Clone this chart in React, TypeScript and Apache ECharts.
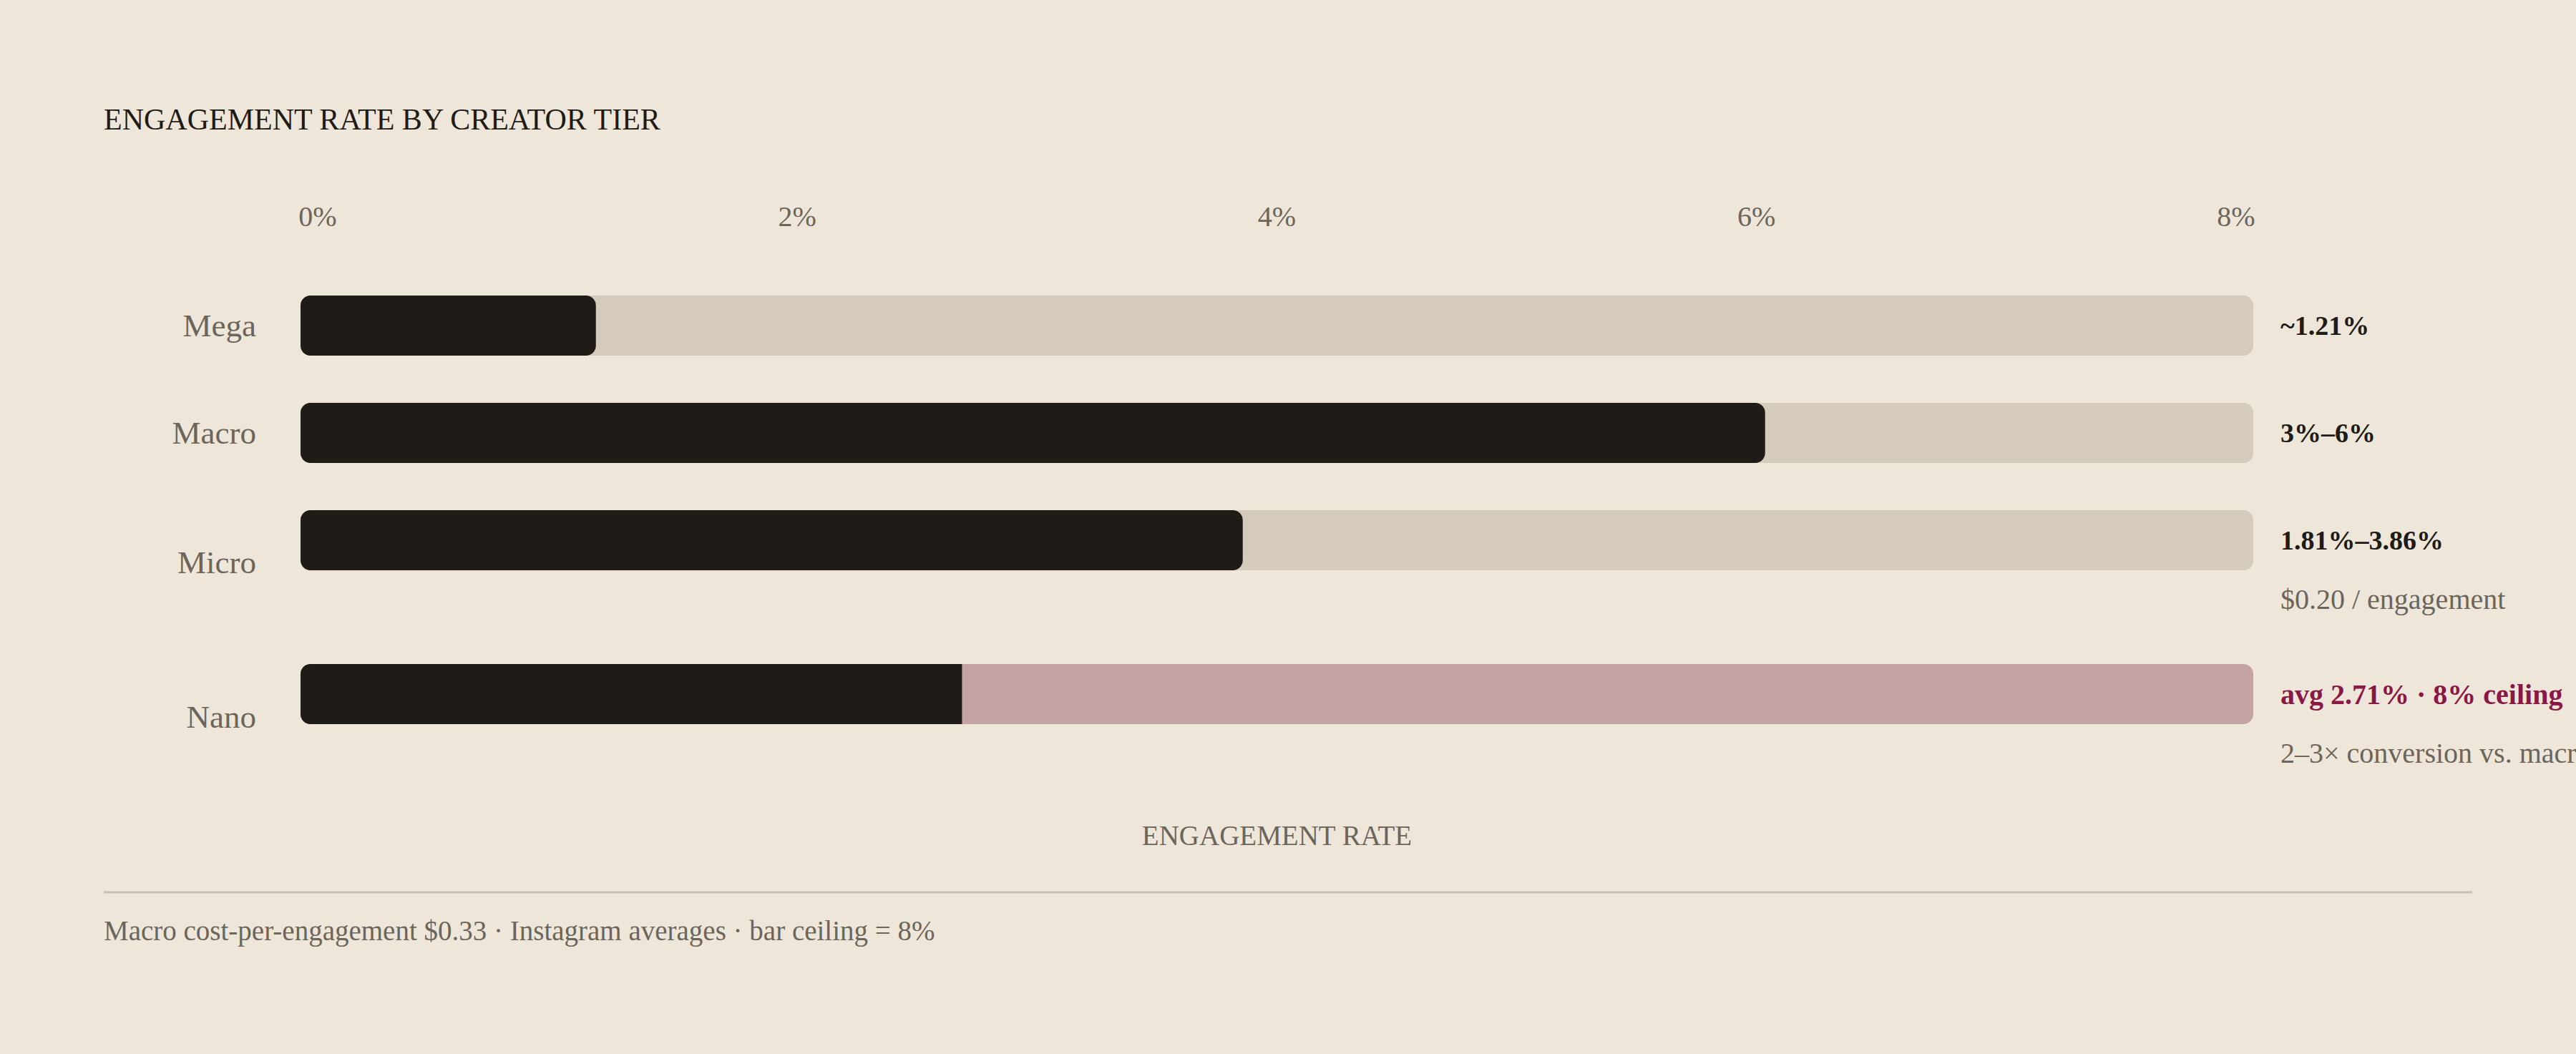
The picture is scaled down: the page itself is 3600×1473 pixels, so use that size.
import React, { useEffect, useRef } from "react";
import * as echarts from "echarts";

// data
const tiers = ["Mega", "Macro", "Micro", "Nano"];
const rates = [1.21, 6, 3.86, 2.71];
const ceiling = 8;
const tickStep = 2;
const rangeLabels = ["~1.21%", "3%–6%", "1.81%–3.86%", "avg 2.71% · 8% ceiling"];
const subNotes = ["", "", "$0.20 / engagement", "2–3× conversion vs. macro"];

const TITLE = "ENGAGEMENT RATE BY CREATOR TIER";
const AXIS_NAME = "ENGAGEMENT RATE";
const FOOTNOTE = "Macro cost-per-engagement $0.33 · Instagram averages · bar ceiling = 8%";

// layout
const W = 3600;
const H = 1473;
const PLOT_LEFT = 420;
const PLOT_RIGHT = 451;
const BAR_H = 84;
const rowTops = [413, 563, 713, 928];
const labelShift = [0, 0, 31, 32];

const FONT = "'Liberation Serif', 'Times New Roman', serif";
const BG = "#EEE6D8";
const INK = "#1F1B16";
const MUTED = "#6B655C";
const TRACK = "#D4CBBD";
const TRACK_HL = "#C5A3A5";
const ACCENT = "#8A1846";

const App: React.FC = () => {
  const chartRef = useRef<HTMLDivElement>(null);

  useEffect(() => {
    if (!chartRef.current) return;
    const chart = echarts.init(chartRef.current, null, { renderer: "svg" });

    const grids: any[] = [];
    const xAxes: any[] = [];
    const yAxes: any[] = [];
    const series: any[] = [];

    tiers.forEach((tier, i) => {
      const last = i === tiers.length - 1;
      grids.push({ left: PLOT_LEFT, right: PLOT_RIGHT, top: rowTops[i], height: BAR_H });
      xAxes.push({
        gridIndex: i,
        type: "value",
        min: 0,
        max: ceiling,
        show: last,
        name: last ? AXIS_NAME : "",
        nameLocation: "middle",
        nameGap: 155,
        nameTextStyle: {
          color: MUTED,
          fontFamily: FONT,
          fontSize: 39,
          verticalAlign: "middle",
        },
        axisLine: { show: false },
        axisTick: { show: false },
        axisLabel: { show: false },
        splitLine: { show: false },
      });
      yAxes.push({
        gridIndex: i,
        type: "category",
        data: [tier],
        axisLine: { show: false },
        axisTick: { show: false },
        axisLabel: {
          margin: 62,
          formatter: (v: string) => `{t|${v}}`,
          rich: {
            t: {
              color: MUTED,
              fontFamily: FONT,
              fontSize: 45,
              padding: [labelShift[i] * 2, 0, 0, 0],
            },
          },
        },
      });

      const sub = subNotes[i];
      const mainStyle = last ? "h" : "m";
      series.push({
        type: "bar",
        name: tier + " track",
        xAxisIndex: i,
        yAxisIndex: i,
        data: [ceiling],
        barWidth: BAR_H,
        silent: true,
        itemStyle: { color: last ? TRACK_HL : TRACK, borderRadius: 14 },
        label: {
          show: true,
          position: "right",
          distance: 38,
          offset: [0, sub ? 41 : 0],
          formatter: sub
            ? `{${mainStyle}|${rangeLabels[i]}}\n{s|${sub}}`
            : `{${mainStyle}|${rangeLabels[i]}}`,
          rich: {
            m: { fontFamily: FONT, fontSize: 38, fontWeight: "bold", color: INK, lineHeight: 82 },
            h: { fontFamily: FONT, fontSize: 40, fontWeight: "bold", color: ACCENT, lineHeight: 82 },
            s: { fontFamily: FONT, fontSize: 40, color: MUTED, lineHeight: 82 },
          },
        },
      });
      series.push({
        type: "bar",
        name: tier,
        xAxisIndex: i,
        yAxisIndex: i,
        data: [rates[i]],
        barWidth: BAR_H,
        barGap: "-100%",
        itemStyle: {
          color: INK,
          borderRadius: last ? [14, 0, 0, 14] : 14,
        },
      });
    });

    // tick label row, spread edge to edge across the plot
    grids.push({ left: 444, right: 475, top: 302, height: 1 });
    xAxes.push({
      gridIndex: tiers.length,
      type: "value",
      position: "top",
      min: 0,
      max: ceiling,
      interval: tickStep,
      axisLine: { show: false },
      axisTick: { show: false },
      splitLine: { show: false },
      axisLabel: {
        formatter: "{value}%",
        color: MUTED,
        fontFamily: FONT,
        fontSize: 40,
        margin: 0,
        verticalAlign: "middle",
      },
    });
    yAxes.push({ gridIndex: tiers.length, type: "category", data: [""], show: false });

    chart.setOption({
      animation: false,
      backgroundColor: BG,
      title: {
        text: TITLE,
        left: 145,
        top: 146,
        padding: 0,
        textStyle: { color: INK, fontFamily: FONT, fontSize: 42, fontWeight: "normal" },
      },
      grid: grids,
      xAxis: xAxes,
      yAxis: yAxes,
      series,
      graphic: [
        {
          type: "line",
          shape: { x1: 145, y1: 1247, x2: 3455, y2: 1247 },
          style: { stroke: "#C7C0B3", lineWidth: 3 },
        },
        {
          type: "text",
          left: 145,
          top: 1281,
          style: { text: FOOTNOTE, fill: MUTED, font: `39px ${FONT}` },
        },
      ],
    });

    return () => chart.dispose();
  }, []);

  return (
    <div
      ref={chartRef}
      style={{ position: "fixed", left: 0, top: 0, width: W, height: H }}
    ></div>
  );
};

export default App;
